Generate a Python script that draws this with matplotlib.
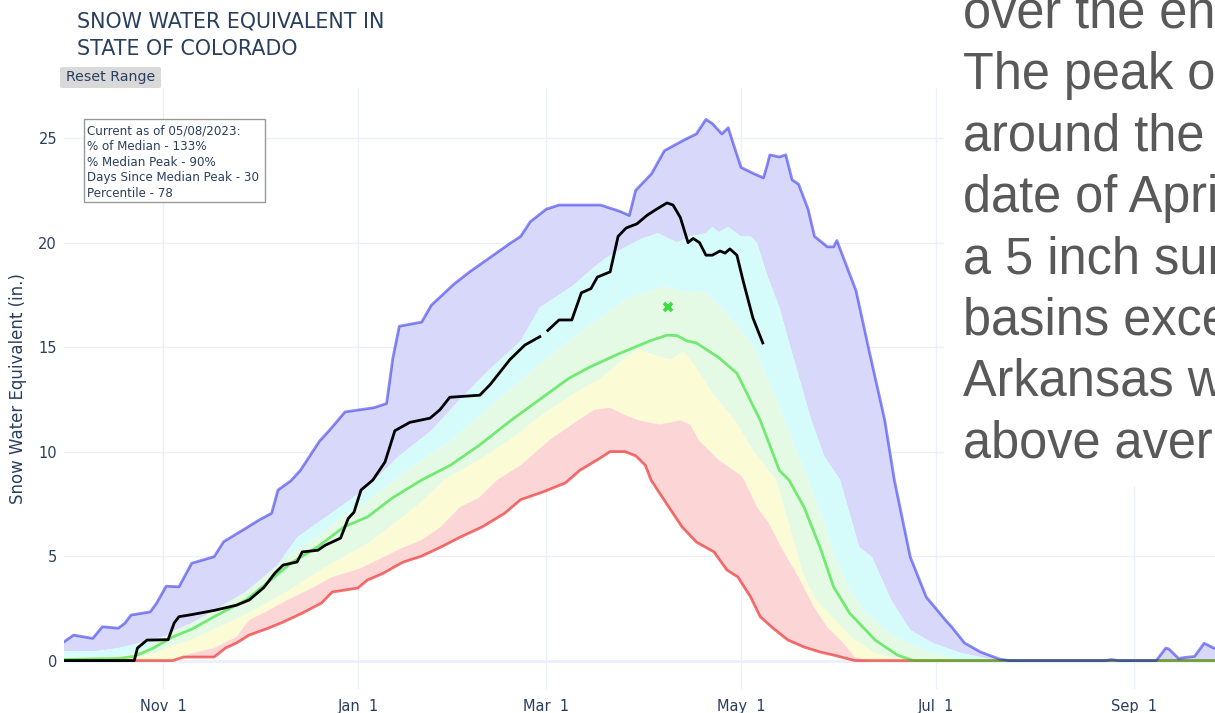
import datetime as dt
import numpy as np
import matplotlib
matplotlib.use("Agg")
import matplotlib.pyplot as plt
import matplotlib.dates as mdates
from matplotlib.patches import Rectangle, FancyBboxPatch

# water year 2023, day 0 = Oct 1 2022
start = dt.date(2022, 10, 1)

# (day of water year, SWE inches)
max_pts = [(0, 0.9), (3, 1.22), (9, 1.06), (12, 1.62), (17, 1.55), (19, 1.78), (21, 2.18),
           (27, 2.33), (29, 2.75), (32, 3.56), (36, 3.53), (40, 4.66), (47, 4.97), (50, 5.69),
           (57, 6.34), (61, 6.72), (65, 7.05), (67, 8.16), (71, 8.6), (74, 9.1), (80, 10.5),
           (83, 11.0), (88, 11.9), (97, 12.1), (101, 12.3), (103, 14.5), (105, 16.0), (112, 16.2),
           (115, 17.0), (122, 18.0), (127, 18.6), (140, 20.0), (143, 20.3), (146, 21.0),
           (151, 21.6), (155, 21.8), (168, 21.8), (174, 21.5), (177, 21.3), (179, 22.5),
           (184, 23.3), (188, 24.4), (194, 24.9), (198, 25.2), (201, 25.9), (203, 25.7),
           (206, 25.2), (208, 25.5), (209, 25.0), (212, 23.6), (216, 23.3), (219, 23.1),
           (220, 23.6), (221, 24.2), (224, 24.1), (226, 24.2), (228, 23.0), (230, 22.8),
           (233, 21.6), (235, 20.3), (239, 19.8), (241, 19.8), (242, 20.1), (248, 17.7),
           (252, 14.9), (257, 11.5), (260, 8.64), (265, 4.95), (270, 3.04), (276, 1.94),
           (278, 1.6), (282, 0.84), (287, 0.41), (293, 0.07), (296, 0.0), (326, 0.0),
           (328, 0.05), (330, 0.0), (342, 0.0), (345, 0.6), (346, 0.55), (349, 0.1),
           (351, 0.15), (354, 0.2), (357, 0.83), (360, 0.6), (364, 0.5)]

p90_pts = [(0, 0.45), (10, 0.45), (17, 0.6), (25, 0.9), (32, 1.2), (40, 1.6), (47, 2.27),
           (57, 3.04), (64, 3.7), (67, 4.6), (73, 5.9), (82, 6.87), (88, 7.52), (95, 8.3),
           (105, 9.8), (115, 11.0), (124, 12.5), (133, 13.9), (143, 15.3), (149, 16.9),
           (159, 17.9), (165, 18.7), (170, 19.3), (176, 19.8), (181, 20.2), (186, 20.45),
           (192, 20.0), (196, 20.3), (201, 20.45), (203, 20.75), (205, 20.5), (208, 20.75),
           (212, 20.3), (215, 20.3), (217, 20.0), (220, 18.5), (224, 16.9), (228, 14.7),
           (234, 11.5), (238, 9.8), (243, 8.64), (249, 5.43), (253, 4.95), (259, 2.9),
           (265, 1.46), (272, 0.84), (281, 0.36), (290, 0.07), (300, 0.0), (364, 0.0)]

p70_pts = [(0, 0.18), (17, 0.2), (22, 0.35), (28, 0.8), (34, 1.4), (40, 1.8), (47, 2.4),
           (57, 3.3), (64, 4.2), (71, 5.1), (80, 6.0), (88, 7.0), (95, 7.6), (103, 8.6),
           (112, 9.6), (121, 10.5), (130, 11.7), (140, 13.0), (149, 14.2), (158, 15.3),
           (168, 16.4), (176, 17.3), (182, 17.6), (188, 17.9), (195, 17.6), (200, 17.7),
           (205, 17.0), (211, 16.0), (216, 15.0), (223, 12.5), (233, 8.64), (238, 6.57),
           (241, 5.1), (246, 3.37), (251, 2.27), (260, 1.13), (269, 0.5), (278, 0.1),
           (285, 0.0), (364, 0.0)]

median_pts = [(0, 0.05), (17, 0.1), (22, 0.2), (28, 0.6), (34, 1.13), (40, 1.5), (47, 2.1),
              (57, 2.9), (64, 3.76), (71, 4.66), (79.5, 5.45), (87.7, 6.4), (95, 6.87),
              (103, 7.8), (112, 8.64), (121, 9.35), (130, 10.3), (140, 11.5), (149, 12.5),
              (158, 13.5), (164.7, 14.05), (174, 14.7), (183.5, 15.3), (188.8, 15.57),
              (192, 15.55), (195, 15.3), (198, 15.2), (205, 14.5), (210.7, 13.75),
              (218, 11.5), (224, 9.1), (227, 8.64), (231.7, 7.35), (236.7, 5.43), (241, 3.52),
              (246, 2.27), (254, 0.98), (261, 0.26), (266, 0.0), (364, 0.0)]

p30_pts = [(0, 0.0), (28, 0.3), (34, 0.7), (40, 1.0), (47, 1.5), (57, 2.2), (64, 2.8),
           (71, 3.4), (80, 4.3), (88, 5.0), (95, 5.6), (103, 6.5), (112, 7.6), (119, 8.64),
           (130, 9.6), (140, 10.6), (150, 11.8), (160, 12.8), (168, 13.5), (175, 14.4),
           (180, 14.9), (185, 14.6), (190, 14.4), (194, 14.8), (198, 14.0), (203, 12.8),
           (210, 11.5), (216, 10.0), (223, 8.64), (225.4, 7.35), (229, 5.43), (231.7, 4.0),
           (235.4, 2.9), (241.5, 1.94), (247.6, 0.98), (254, 0.36), (261, 0.07), (265, 0.0),
           (364, 0.0)]

p10_pts = [(0, 0.0), (34, 0.0), (37, 0.15), (40, 0.35), (47, 0.6), (54, 1.13), (58, 1.94),
           (64, 2.4), (70, 2.9), (78, 3.5), (84, 4.0), (92.6, 4.4), (100, 4.95), (106, 5.4),
           (112, 5.77), (118, 6.4), (124, 7.35), (130, 7.8), (135.6, 8.64), (143, 9.35),
           (152, 10.55), (160, 11.4), (166, 12.0), (171, 12.1), (175.6, 11.75), (180, 11.5),
           (186.6, 11.3), (193, 11.5), (196, 11.3), (199, 10.5), (205, 9.6), (211.6, 8.9),
           (213, 8.64), (217, 7.35), (220.7, 6.57), (225, 5.3), (230, 4.0), (234.8, 2.56),
           (239, 1.6), (244, 0.84), (247.6, 0.17), (252, 0.0), (364, 0.0)]

min_pts = [(0, 0.0), (34, 0.0), (37.5, 0.17), (47, 0.17), (50.6, 0.6), (54, 0.84), (58, 1.22),
           (64, 1.55), (68.6, 1.84), (74.6, 2.27), (80.6, 2.75), (84, 3.28), (92, 3.47),
           (95, 3.85), (100, 4.18), (106, 4.7), (112, 5.0), (118, 5.43), (124, 5.9), (131, 6.4),
           (138, 7.05), (143, 7.7), (150, 8.07), (157, 8.5), (161.5, 9.1), (168, 9.7),
           (171, 10.0), (175.6, 10.0), (179, 9.8), (182, 9.35), (183.8, 8.64), (188.7, 7.5),
           (193.5, 6.4), (198, 5.67), (203.5, 5.2), (207.6, 4.33), (211, 4.0), (215, 3.04),
           (218, 2.1), (222, 1.55), (226.7, 0.98), (231.7, 0.65), (236.7, 0.41), (241, 0.26),
           (247.6, 0.0), (364, 0.0)]

# WY2023 to 05/08/2023, nan = missing day
current_pts = [(0, 0), (22, 0), (23, 0.6), (26, 0.98), (32.6, 1.0), (34.5, 1.8), (36, 2.1),
               (40, 2.2), (47, 2.4), (54, 2.65), (58, 2.9), (62.6, 3.5), (66, 4.18),
               (68.6, 4.57), (73, 4.72), (74.6, 5.2), (79.5, 5.28), (81.8, 5.52), (86.6, 5.86),
               (89, 6.8), (90.8, 7.1), (93, 8.16), (96.7, 8.64), (100.5, 9.5), (103.6, 11.0),
               (108.3, 11.4), (114.6, 11.6), (117.7, 12.0), (120.8, 12.6), (130.2, 12.7),
               (133.4, 13.2), (136.5, 13.8), (139.6, 14.4), (144.3, 15.1), (149, 15.5),
               (150, np.nan), (151.5, 15.8), (155, 16.3), (159, 16.3), (162, 17.6), (165, 17.8),
               (167, 18.35), (171, 18.6), (173.5, 20.3), (176, 20.7), (179.4, 20.9),
               (182.5, 21.3), (185, 21.55), (188.8, 21.9), (190.7, 21.8), (193, 21.2),
               (195.4, 20.0), (197, 20.2), (199, 20.0), (201, 19.4), (203, 19.4), (205.4, 19.6),
               (207, 19.5), (208.5, 19.7), (210.7, 19.4), (212.6, 18.2), (215.7, 16.4),
               (218.8, 15.2)]

median_peak_day = 189
median_peak_val = 16.9

tick_dates = [dt.date(2022, 11, 1), dt.date(2023, 1, 1), dt.date(2023, 3, 1),
              dt.date(2023, 5, 1), dt.date(2023, 7, 1), dt.date(2023, 9, 1)]
tick_labels = ["Nov  1", "Jan  1", "Mar  1", "May  1", "Jul  1", "Sep  1"]

info_lines = ["Current as of 05/08/2023:", "% of Median - 133%", "% Median Peak - 90%",
              "Days Since Median Peak - 30", "Percentile - 78"]

# slide text laid over the right of the screenshot (cut at the image edge)
side_lines = ["over the en", "The peak o", "around the", "date of Apri", "a 5 inch sur",
              "basins exce", "Arkansas w", "above aver"]

x0 = mdates.date2num(start)
TXT = "#2a3f5f"
W, H = 1215, 713


def xy(pts):
    a = np.array(pts, dtype=float)
    return x0 + a[:, 0], a[:, 1]


def band(ax, upper, lower, color):
    xu, yu = xy(upper)
    xl, yl = xy(lower)
    ax.fill(np.concatenate([xu, xl[::-1]]), np.concatenate([yu, yl[::-1]]),
            color=color, lw=0, zorder=1)


def fx(px):
    return px / W


def fy(py):
    return 1 - py / H


fig = plt.figure(figsize=(W / 100, H / 100), dpi=100)
ax = fig.add_axes([fx(64), fy(689), 1 - fx(64), (689 - 88) / H])

band(ax, max_pts, p90_pts, "#d8d8fb")
band(ax, p90_pts, p70_pts, "#d5fbfb")
band(ax, p70_pts, p30_pts, "#e5fae5")
band(ax, p30_pts, p10_pts, "#fbfbd6")
band(ax, p10_pts, min_pts, "#fcd6d6")

ax.plot(*xy(min_pts), color=(0.92, 0.0, 0.0, 0.55), lw=2, zorder=3)
ax.plot(*xy(median_pts), color=(0.0, 0.85, 0.0, 0.5), lw=2, zorder=3)
ax.plot(*xy(max_pts), color=(0.0, 0.0, 0.92, 0.45), lw=2, zorder=3)
ax.plot(*xy(current_pts), color="black", lw=2, zorder=4)
ax.plot(x0 + median_peak_day, median_peak_val, marker="x", ms=6, mew=2.6,
        color="#3ddc3d", zorder=5)

ax.set_xlim(x0, x0 + 360.4)
ax.set_ylim(-1.36, 27.4)
ax.set_yticks([0, 5, 10, 15, 20, 25])
ax.set_xticks([mdates.date2num(d) for d in tick_dates])
ax.set_xticklabels(tick_labels)
ax.grid(color="#ebf0f8", lw=1)
ax.axhline(0, color="#ebf0f8", lw=2, zorder=0.5)
ax.set_axisbelow(True)
for s in ax.spines.values():
    s.set_visible(False)
ax.tick_params(length=0, labelsize=10.5, colors=TXT)
ax.tick_params(axis="x", pad=7)
ax.tick_params(axis="y", pad=5)
ax.set_ylabel("Snow Water Equivalent (in.)", fontsize=12, color=TXT, labelpad=8)

# title and controls
fig.text(fx(77), fy(28), "SNOW WATER EQUIVALENT IN", fontsize=14.9, color=TXT, va="baseline")
fig.text(fx(77), fy(55), "STATE OF COLORADO", fontsize=14.9, color=TXT, va="baseline")
fig.patches.append(FancyBboxPatch((fx(60), fy(88)), fx(101), 21 / H,
                                  boxstyle="round,pad=0,rounding_size=0.002",
                                  transform=fig.transFigure, facecolor="#d9d9d9",
                                  edgecolor="none", zorder=2))
fig.text(fx(110.5), fy(77.5), "Reset Range", fontsize=10.2, color=TXT,
         ha="center", va="center", zorder=3)

# info box
fig.patches.append(Rectangle((fx(83.5), fy(202)), fx(181), 83 / H, transform=fig.transFigure,
                             facecolor="white", edgecolor="#999999", lw=1, zorder=2))
for i, line in enumerate(info_lines):
    fig.text(fx(87), fy(131.5 + 15.5 * i), line, fontsize=8.6, color=TXT, va="center", zorder=3)

# white panel behind the slide text
fig.patches.append(Rectangle((fx(944), fy(486)), 1 - fx(944), 486 / H, transform=fig.transFigure,
                             facecolor="white", edgecolor="none", zorder=2))
for i, line in enumerate(side_lines):
    fig.text(fx(963), fy(28 + 61.3 * i), line, fontsize=36.4, family="Liberation Sans",
             color="#595959", va="baseline", zorder=3)

fig.savefig("out.png", dpi=100)
